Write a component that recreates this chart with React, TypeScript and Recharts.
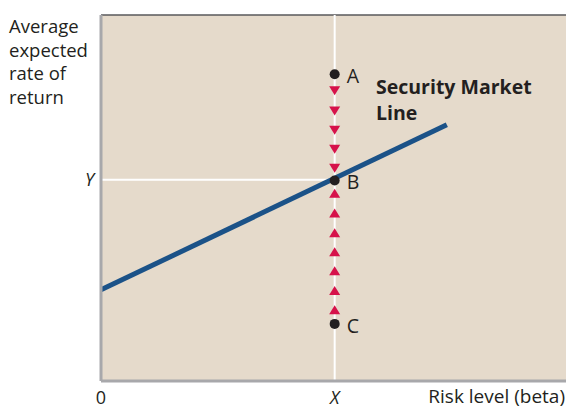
import {
  ComposedChart,
  Line,
  Scatter,
  XAxis,
  YAxis,
  ReferenceLine,
  CartesianGrid,
  LabelList,
  Customized,
} from "recharts"

// risk (beta) on x, expected return on y
const smlX = [0, 1.48]
const smlY = [2.49, 7.0]

const pointNames = ["A", "B", "C"]
const pointX = 1
const pointY = [8.38, 5.48, 1.56]

const downY = [7.93, 7.38, 6.85, 6.33, 5.81]
const upY = [5.13, 4.59, 4.05, 3.53, 3.01, 2.47, 1.95]

const xTicks = [0, 1]
const xTickLabels = ["0", "X"]
const yTicks = [5.5]
const yTickLabels = ["Y"]
const yTitle = ["Average", "expected", "rate of", "return"]

const font = "'Open Sans', Lato, sans-serif"
const ink = "#231f20"

const smlData = smlX.map((x, i) => ({ x, y: smlY[i] }))
const pointData = pointNames.map((name, i) => ({ x: pointX, y: pointY[i], name }))
const downData = downY.map((y) => ({ x: pointX, y }))
const upData = upY.map((y) => ({ x: pointX, y }))

const DownTri = (p: any) => (
  <polygon
    points={`${p.cx - 5.5},${p.cy - 4.5} ${p.cx + 5.5},${p.cy - 4.5} ${p.cx},${p.cy + 4.5}`}
    fill="#d6124a"
  />
)
const UpTri = (p: any) => (
  <polygon
    points={`${p.cx - 5.5},${p.cy + 4.5} ${p.cx + 5.5},${p.cy + 4.5} ${p.cx},${p.cy - 4.5}`}
    fill="#d6124a"
  />
)
const Dot = (p: any) => <circle cx={p.cx} cy={p.cy} r={5} fill={ink} />

const XTick = (p: any) => (
  <text x={p.x} y={p.y + 15} textAnchor="middle" fontFamily={font} fontSize={18}
    fill={ink} fontStyle={p.payload.value === 0 ? "normal" : "italic"}>
    {xTickLabels[xTicks.indexOf(p.payload.value)]}
  </text>
)
const YTick = (p: any) => (
  <text x={p.x + 1} y={p.y + 6} textAnchor="end" fontFamily={font} fontSize={18}
    fill={ink} fontStyle="italic">
    {yTickLabels[yTicks.indexOf(p.payload.value)]}
  </text>
)

const Texts = () => (
  <g fontFamily={font} fill={ink}>
    {yTitle.map((t, i) => (
      <text key={t} x={9} y={33 + i * 23.7} fontSize={18.5}>{t}</text>
    ))}
    <text x={376} y={94} fontSize={19.5} fontWeight={700}>Security Market</text>
    <text x={376} y={120} fontSize={19.5} fontWeight={700}>Line</text>
    <text x={565} y={403} fontSize={19} textAnchor="end">Risk level (beta)</text>
  </g>
)

export default function App() {
  return (
    <div style={{ position: "absolute", left: 0, top: 0 }}>
      <ComposedChart width={567} height={408} margin={{ top: 15, right: 1, bottom: 0, left: 0 }}>
        <CartesianGrid fill="#e5dacb" horizontal={false} vertical={false} />
        <XAxis type="number" dataKey="x" domain={[0, 1.99]} ticks={xTicks} tickLine={false}
          axisLine={{ stroke: "#a8a8ab", strokeWidth: 3 }} height={27} tick={<XTick />} />
        <YAxis type="number" dataKey="y" domain={[0, 10]} ticks={yTicks} tickLine={false}
          axisLine={{ stroke: "#a8a8ab", strokeWidth: 3 }} width={101} tick={<YTick />} />
        <ReferenceLine y={10} stroke="#58595b" strokeWidth={1.5} />
        <ReferenceLine x={pointX} stroke="#ffffff" strokeWidth={2} />
        <ReferenceLine segment={[{ x: 0, y: 5.5 }, { x: pointX, y: 5.5 }]} stroke="#ffffff" strokeWidth={2} />
        <Scatter data={downData} shape={DownTri} isAnimationActive={false} />
        <Scatter data={upData} shape={UpTri} isAnimationActive={false} />
        <Line data={smlData} dataKey="y" type="linear" stroke="#1b5288" strokeWidth={5}
          dot={false} isAnimationActive={false} />
        <Scatter data={pointData} shape={Dot} isAnimationActive={false}>
          <LabelList dataKey="name" content={(p: any) => (
            <text x={p.x + p.width / 2 + 12} y={p.y + p.height / 2 + 9} fontFamily={font}
              fontSize={19.5} fill={ink}>{p.value}</text>
          )} />
        </Scatter>
        <Customized component={Texts} />
      </ComposedChart>
    </div>
  )
}
